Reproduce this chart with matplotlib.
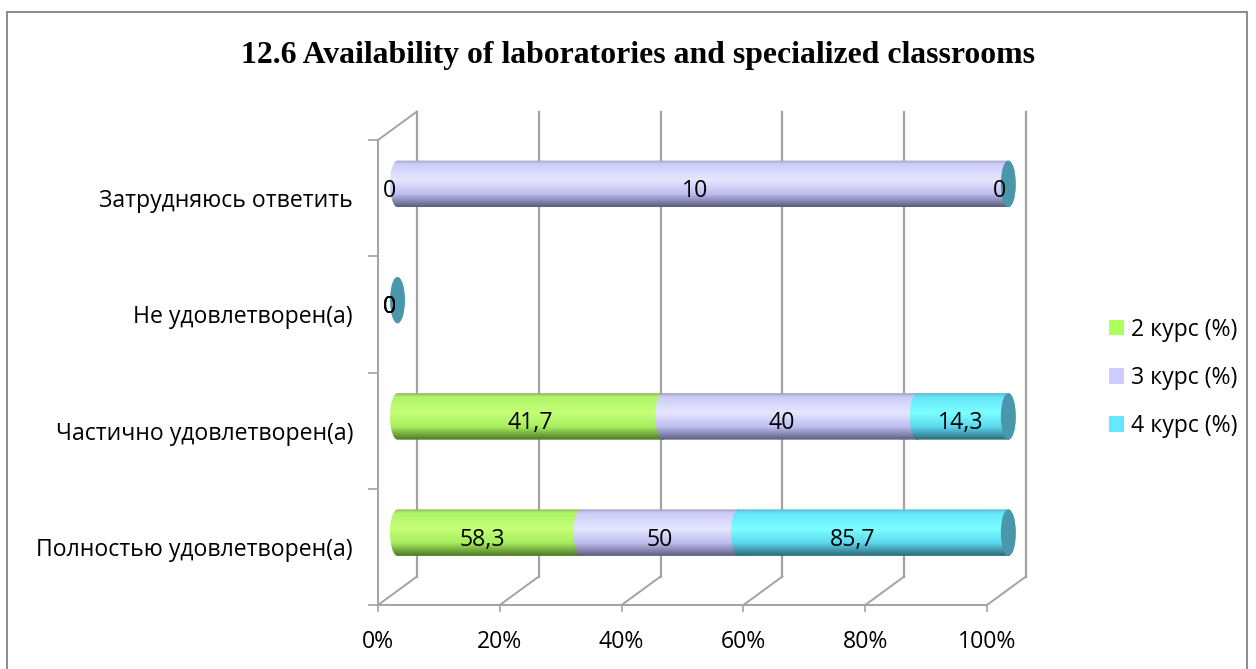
import numpy as np
import matplotlib
matplotlib.use('Agg')
from matplotlib import pyplot as plt
from matplotlib.colors import LinearSegmentedColormap
from matplotlib.patches import Ellipse, Patch, PathPatch, Rectangle
from matplotlib.path import Path

plt.rcParams['font.family'] = ['Open Sans', 'DejaVu Sans']

title = '12.6 Availability of laboratories and specialized classrooms'
categories = ['Полностью удовлетворен(а)', 'Частично удовлетворен(а)',
              'Не удовлетворен(а)', 'Затрудняюсь ответить']
series_names = ['2 курс (%)', '3 курс (%)', '4 курс (%)']
course_2 = [58.3, 41.7, 0, 0]
course_3 = [50, 40, 0, 10]
course_4 = [85.7, 14.3, 0, 0]
value_labels = [['58,3', '41,7', '0', '0'],
                ['50', '40', '0', '10'],
                ['85,7', '14,3', '0', '0']]
x_ticks = [0, 20, 40, 60, 80, 100]

# legend colour, then top edge / shoulder / highlight / base / bottom edge of the cylinder
legend_colors = ['#aeff5e', '#ccccff', '#66e6ff']
shades = [['#8fb85a', '#b0f468', '#c4ff78', '#a8ee5e', '#4c7826'],
          ['#a0a0c4', '#ccccf8', '#e6e6ff', '#bebef0', '#5c5c80'],
          ['#5cb8cc', '#66e6fa', '#7cffff', '#5cd8ee', '#2c6878']]
cap_color = '#4a97ac'
grid_color = '#a3a3a3'

# 3d look of the original: depth of the box in data units
depth_x = 6.4
depth_y = 0.245
bar_half = 0.2
cap_half = 1.23
bar_scale = 1.003

# label nudges in pixels, the original doesn't centre them exactly
label_dx = [[-7, 0, -8, -8], [0, -8, -8, -8], [-21, -2, -8, -9]]
label_dy = -7
font_size = 16.6


def cylinder_path(x0, x1, y):
    top = np.linspace(np.pi / 2, 3 * np.pi / 2, 40)
    left = np.column_stack([x0 + cap_half * np.cos(top), y + bar_half * np.sin(top)])
    right = np.column_stack([x1 - cap_half * np.cos(top), y - bar_half * np.sin(top)])
    return Path(np.vstack([left, right, left[:1]]), closed=True)


fig = plt.figure(figsize=(12.56, 6.69), dpi=100)
fig.add_artist(Rectangle((7 / 1256, -0.01), 1240 / 1256, 1 - 12 / 669 + 0.01,
                         transform=fig.transFigure, fill=False,
                         edgecolor='#8c8c8c', linewidth=1.4))
ax = fig.add_axes([378 / 1256, 1 - 605 / 669, 609 / 1256, 465 / 669])
ax.set_xlim(0, 100)
ax.set_ylim(-0.5, 3.5)
for spine in ax.spines.values():
    spine.set_visible(False)

# back wall and floor
y_low, y_high = ax.get_ylim()
for x in x_ticks:
    ax.plot([x + depth_x, x + depth_x], [y_low + depth_y, y_high + depth_y],
            color=grid_color, lw=1.6, clip_on=False, zorder=1)
    ax.plot([x, x + depth_x], [y_low, y_low + depth_y],
            color=grid_color, lw=1.4, clip_on=False, zorder=1)
ax.plot([0, depth_x], [y_high, y_high + depth_y], color=grid_color, lw=1.4, clip_on=False, zorder=1)
ax.plot([0, 0], [y_low, y_high], color=grid_color, lw=1.4, clip_on=False, zorder=1)
ax.plot([0, 100], [y_low, y_low], color=grid_color, lw=1.4, clip_on=False, zorder=1)

values = np.array([course_2, course_3, course_4], dtype=float)
totals = values.sum(axis=0)
shares = np.divide(values, totals, out=np.zeros_like(values), where=totals > 0) * 100
gradient = np.linspace(0, 1, 128).reshape(-1, 1)

for row in range(len(categories)):
    y = row + depth_y / 2
    start = depth_x / 2
    for s in range(len(series_names)):
        end = start + shares[s, row] * bar_scale
        if end > start:
            cmap = LinearSegmentedColormap.from_list(
                'bar', list(zip([0, 0.08, 0.42, 0.72, 1], shades[s])))
            im = ax.imshow(gradient, cmap=cmap, aspect='auto', interpolation='bilinear',
                           extent=(start - cap_half, end + cap_half, y - bar_half, y + bar_half),
                           zorder=2 + s)
            clip = PathPatch(cylinder_path(start, end, y), transform=ax.transData,
                             facecolor='none', edgecolor='none')
            ax.add_patch(clip)
            im.set_clip_path(clip)
            im.set_clip_box(fig.bbox)
        ax.annotate(value_labels[s][row], ((start + end) / 2, y),
                    xytext=(label_dx[s][row] * 0.72, label_dy * 0.72), textcoords='offset points',
                    ha='center', va='center', fontsize=font_size, color='black',
                    zorder=10, annotation_clip=False)
        start = end
    ax.add_patch(Ellipse((start, y), 2 * cap_half, 2 * bar_half, facecolor=cap_color,
                         edgecolor='none', clip_on=False, zorder=6))

ax.set_xlim(0, 100)
ax.set_ylim(y_low, y_high)
ax.set_xticks(x_ticks)
ax.set_xticklabels([f'{t}%' for t in x_ticks], fontsize=font_size)
ax.set_yticks(range(len(categories)))
ax.set_yticklabels(categories, fontsize=font_size)
ax.set_yticks(np.arange(y_low, y_high + 1), minor=True)
ax.tick_params(axis='y', which='major', length=0, pad=18)
ax.tick_params(axis='y', which='minor', length=7, width=1.2, color=grid_color)
ax.tick_params(axis='x', which='major', length=5, width=1.2, color=grid_color, pad=13)

handles = [Patch(facecolor=c, edgecolor='none') for c in legend_colors]
fig.legend(handles, series_names, loc='center left', frameon=False, fontsize=font_size,
           bbox_to_anchor=(1109 / 1256, 1 - 378 / 669), handlelength=0.65, handleheight=0.65,
           handletextpad=0.3, labelspacing=1.05, borderpad=0, borderaxespad=0)

fig.text(638 / 1256, 1 - 56 / 669, title, ha='center', va='center', fontsize=22.9,
         fontweight='bold', family=['Liberation Serif', 'DejaVu Serif'])

fig.savefig('out.png', dpi=100)
